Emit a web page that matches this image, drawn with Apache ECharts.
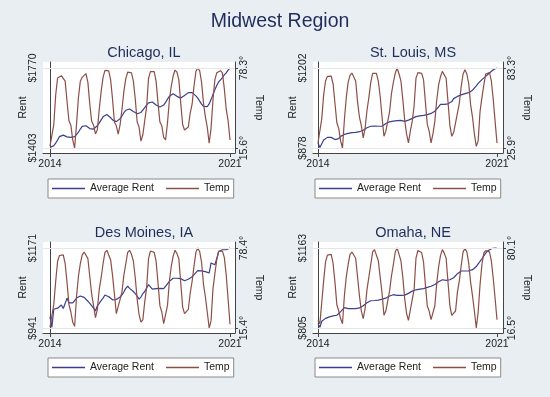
<!DOCTYPE html>
<html><head><meta charset="utf-8">
<script src="https://cdn.jsdelivr.net/npm/echarts/dist/echarts.min.js"></script>
<style>html,body{margin:0;padding:0;background:#e8eef1}#c{width:550px;height:397px}</style>
</head><body><div id="c"></div><script>
// ---------------- DATA ----------------
const mainTitle = 'Midwest Region';
const cityNames = ['Chicago, IL', 'St. Louis, MS', 'Des Moines, IA', 'Omaha, NE'];
const seriesNames = ['Average Rent', 'Temp'];
const axisTitles = ['Rent', 'Temp'];
const xTickIdx = [0, 95];            // month index: Jan 2014 ... Dec 2021
const xTickLabels = ['2014', '2021'];

const chicagoRent = [
1405,1410,1414,1425,1440,1455,1462,1462,1458,1454,1452,1452,
1453,1455,1462,1475,1490,1502,1507,1505,1498,1492,1488,1490,
1496,1505,1518,1532,1546,1555,1557,1552,1542,1532,1525,1524,
1528,1537,1550,1565,1576,1582,1582,1578,1570,1563,1560,1561,
1566,1575,1588,1600,1610,1615,1614,1608,1600,1593,1591,1593,
1600,1612,1627,1640,1649,1652,1648,1640,1634,1632,1636,1644,
1652,1657,1659,1657,1650,1642,1632,1618,1604,1594,1590,1593,
1605,1625,1648,1670,1690,1706,1716,1726,1738,1748,1760,1770];
const chicagoTemp = [
17.0,17.5,34.0,57.0,70.5,71.5,72.3,73.6,68.0,52.0,37.0,33.5,
22.0,15.6,34.0,55.0,68.0,71.0,72.5,73.9,67.0,50.0,36.5,33.5,
26.6,30.0,46.0,60.0,71.0,76.5,77.5,76.0,69.0,54.0,36.0,33.0,
26.5,34.0,46.0,60.0,70.0,75.0,76.5,74.5,68.0,54.0,36.0,32.0,
21.0,26.0,37.0,48.0,70.0,75.5,77.0,75.5,68.0,51.0,36.0,33.0,
24.0,21.9,35.0,53.0,64.0,72.0,76.7,75.0,69.0,51.0,34.0,29.7,
31.0,32.0,43.0,50.0,64.0,75.5,78.3,76.0,67.0,51.0,40.0,32.0,
19.3,31.0,53.0,69.0,74.5,76.0,76.2,74.5,62.0,46.0,37.0,21.9];
const chicagoRentTicks = [1403, 1770];
const chicagoTempTicks = [15.6, 78.3];

const stLouisRent = [
898,880,895,910,917,921,922,921,920,912,910,916,
925,930,933,935,937,938,940,940,941,942,944,946,
950,954,960,964,966,967,967,967,966,964,966,972,
977,980,984,986,987,988,989,989,990,988,986,989,
991,994,998,1003,1005,1006,1008,1009,1010,1011,1013,1016,
1018,1022,1027,1034,1045,1055,1056,1055,1055,1057,1060,1066,
1078,1083,1087,1090,1093,1096,1098,1100,1102,1106,1112,1120,
1130,1140,1148,1155,1162,1168,1174,1182,1190,1195,1199,1202];
const stLouisTemp = [
29.5,30.0,47.0,64.0,74.0,77.3,76.5,77.5,72.0,58.0,44.0,40.0,
31.0,25.9,46.0,62.0,73.0,78.0,79.7,78.5,74.0,59.0,48.0,42.0,
33.1,40.0,53.0,62.0,73.0,79.5,80.9,79.5,74.0,63.0,48.0,34.3,
38.0,45.0,52.0,65.0,73.0,79.5,83.3,79.0,74.0,61.0,46.0,36.0,
29.5,38.0,45.0,56.0,76.0,80.0,80.9,79.5,75.0,59.0,43.0,38.0,
29.5,36.0,45.0,60.0,71.0,77.0,80.9,79.5,76.0,59.0,42.0,34.3,
37.0,38.0,51.0,58.0,70.0,79.0,82.1,79.0,72.0,57.0,48.0,36.0,
27.1,31.0,52.0,62.0,71.0,79.0,80.2,80.0,74.0,61.0,45.0,29.5];
const stLouisRentTicks = [878, 1202];
const stLouisTempTicks = [25.9, 83.3];

const desMoinesRent = [
973,943,995,996,998,1002,1007,997,1000,1027,1013,1012,
1013,1020,1027,1031,1033,1030,1029,1024,1018,1012,1007,998,
990,1005,1012,1020,1027,1036,1033,1031,1026,1022,1021,1023,
1024,1030,1036,1045,1055,1061,1055,1050,1046,1040,1033,1024,
1030,1040,1046,1056,1066,1062,1053,1051,1054,1057,1055,1051,
1054,1058,1068,1075,1077,1084,1085,1084,1083,1083,1080,1077,
1078,1081,1079,1088,1092,1100,1106,1107,1105,1104,1103,1101,
1099,1128,1125,1123,1140,1160,1164,1166,1166,1166,1169,1171];
const desMoinesTemp = [
16.2,17.0,34.0,52.0,68.0,72.5,73.9,73.0,66.0,51.0,34.0,28.0,
20.0,16.7,40.0,56.0,66.0,73.0,75.2,74.0,70.0,56.0,42.0,33.0,
23.5,30.0,46.0,55.0,66.0,75.0,76.6,75.5,69.0,57.0,42.0,26.7,
28.0,38.0,44.0,57.0,66.0,75.0,76.6,73.5,68.0,55.0,38.0,26.0,
20.1,22.0,36.0,47.0,70.0,76.0,76.6,75.0,68.0,51.0,33.0,28.0,
18.8,18.0,33.0,52.0,64.0,72.0,76.6,74.0,70.0,51.0,32.0,26.7,
28.0,30.0,43.0,52.0,64.0,75.0,78.4,75.5,67.0,50.0,40.0,28.0,
15.4,21.0,46.0,58.0,69.0,76.0,76.6,76.0,71.0,57.0,38.0,18.3];
const desMoinesRentTicks = [941, 1171];
const desMoinesTempTicks = [15.4, 78.4];

const omahaRent = [
825,808,835,842,848,852,855,857,859,861,862,868,
878,886,896,894,892,892,892,891,892,893,895,900,
905,910,918,925,927,928,928,928,930,932,934,937,
939,943,948,952,954,952,951,951,951,951,952,955,
960,966,970,973,976,977,979,980,981,983,987,990,
992,995,1000,1005,1012,1018,1021,1020,1018,1018,1021,1025,
1030,1038,1048,1056,1060,1061,1060,1060,1061,1063,1066,1070,
1080,1092,1103,1115,1128,1140,1150,1156,1160,1161,1163,1162];
const omahaTemp = [
22.6,20.0,37.0,54.0,69.0,74.5,75.6,75.0,68.0,53.0,35.0,30.0,
24.0,19.9,42.0,57.0,67.0,75.0,76.9,75.5,72.0,57.0,42.0,30.0,
23.9,32.0,47.0,57.0,67.0,77.0,78.8,77.5,70.0,57.0,44.0,26.6,
30.0,38.0,46.0,58.0,67.0,77.0,80.1,75.0,70.0,57.0,40.0,28.0,
22.6,24.0,39.0,47.0,72.0,78.0,78.2,76.5,69.0,51.0,34.0,30.0,
23.1,22.0,34.0,52.0,65.0,74.0,78.8,76.0,72.0,53.0,34.0,26.6,
28.0,30.0,45.0,54.0,66.0,77.0,79.6,77.0,68.0,53.0,42.0,30.0,
16.5,29.0,51.0,67.0,76.0,78.0,78.2,77.0,70.0,56.0,40.0,23.1];
const omahaRentTicks = [805, 1163];
const omahaTempTicks = [16.5, 80.1];

// ---------------- LAYOUT / STYLE ----------------
const panels = [
  {rent: chicagoRent, temp: chicagoTemp, rt: chicagoRentTicks, tt: chicagoTempTicks},
  {rent: stLouisRent, temp: stLouisTemp, rt: stLouisRentTicks, tt: stLouisTempTicks},
  {rent: desMoinesRent, temp: desMoinesTemp, rt: desMoinesRentTicks, tt: desMoinesTempTicks},
  {rent: omahaRent, temp: omahaTemp, rt: omahaRentTicks, tt: omahaTempTicks}
];
const layouts = [
  {l:43, r:235, t:62, b:153, x0:50, x1:230, yT:68, yB:148, titleY:40, legL:48, legT:179},
  {l:313, r:503, t:62, b:153, x0:318, x1:497, yT:68, yB:148, titleY:40, legL:315, legT:179},
  {l:43, r:235, t:242, b:333, x0:50, x1:230, yT:248, yB:328, titleY:220, legL:48, legT:358},
  {l:313, r:503, t:242, b:333, x0:318, x1:497, yT:248, yB:328, titleY:220, legL:315, legT:358}
];
const FONT = 'Liberation Sans, Arial, sans-serif';
const rentColor = '#3a3f8e';
const tempColor = '#8c4f47';
const axisColor = '#444';
const textColor = '#222';
const titleColor = '#1f2d5c';

function extent(lo, hi, pLo, pHi, pxLo, pxHi) {
  const k = (hi - lo) / (pHi - pLo);
  return [lo + (pxLo - pLo) * k, hi + (pxHi - pHi) * k];
}
function nearestLabel(v, ticks, labels) {
  let bi = 0;
  ticks.forEach((t, i) => { if (Math.abs(t - v) < Math.abs(ticks[bi] - v)) bi = i; });
  return labels[bi];
}

const option = {
  backgroundColor: '#e8eef1',
  animation: false,
  textStyle: {fontFamily: FONT},
  title: [{text: mainTitle, left: 275, top: 7, textAlign: 'center',
    textStyle: {fontFamily: FONT, fontSize: 19.5, fontWeight: 'normal', color: titleColor}}],
  grid: [], xAxis: [], yAxis: [], series: [], legend: [], graphic: []
};

panels.forEach((p, i) => {
  const L = layouts[i];
  option.title.push({text: cityNames[i], left: (L.l + L.r) / 2, top: L.titleY, textAlign: 'center',
    textStyle: {fontFamily: FONT, fontSize: 14.5, fontWeight: 'normal', color: titleColor}});
  option.grid.push({left: L.l, top: L.t, width: L.r - L.l, height: L.b - L.t, show: true,
    backgroundColor: '#ffffff', borderWidth: 0, containLabel: false});
  const xe = extent(xTickIdx[0], xTickIdx[1], L.x0, L.x1, L.l, L.r);
  option.xAxis.push({type: 'value', gridIndex: i, min: xe[0], max: xe[1],
    axisLine: {show: true, lineStyle: {color: axisColor, width: 1}},
    axisTick: {show: true, customValues: xTickIdx, length: 4, lineStyle: {color: axisColor}},
    axisLabel: {customValues: xTickIdx, margin: 6, fontSize: 10.5, color: textColor, fontFamily: FONT,
      formatter: v => nearestLabel(v, xTickIdx, xTickLabels)},
    splitLine: {show: false}});
  const re = extent(p.rt[1], p.rt[0], L.yT, L.yB, L.t, L.b);
  const te = extent(p.tt[1], p.tt[0], L.yT, L.yB, L.t, L.b);
  const rentLabels = p.rt.map(v => '$' + v);
  const tempLabels = p.tt.map(v => v.toFixed(1) + '°');
  option.yAxis.push({type: 'value', gridIndex: i, position: 'left', min: re[1], max: re[0],
    axisLine: {show: true, lineStyle: {color: axisColor, width: 1}},
    axisTick: {show: true, customValues: p.rt, length: 3, lineStyle: {color: axisColor}},
    axisLabel: {customValues: p.rt, rotate: 90, margin: 4, fontSize: 10.5, color: textColor, fontFamily: FONT,
      formatter: v => nearestLabel(v, p.rt, rentLabels)},
    splitLine: {show: false}});
  option.yAxis.push({type: 'value', gridIndex: i, position: 'right', min: te[1], max: te[0],
    axisLine: {show: true, lineStyle: {color: axisColor, width: 1}},
    axisTick: {show: true, customValues: p.tt, length: 3, lineStyle: {color: axisColor}},
    axisLabel: {customValues: p.tt, rotate: 90, margin: 4, fontSize: 10.5, color: textColor, fontFamily: FONT,
      formatter: v => nearestLabel(v, p.tt, tempLabels)},
    splitLine: {show: false}});
  // axis titles
  option.graphic.push({type: 'text', x: L.l - 19.5, y: (L.t + L.b) / 2, rotation: Math.PI / 2, silent: true,
    style: {text: axisTitles[0], font: '10.5px ' + FONT, fill: textColor, align: 'center', verticalAlign: 'middle'}});
  option.graphic.push({type: 'text', x: L.r + 24, y: (L.t + L.b) / 2, rotation: -Math.PI / 2, silent: true,
    style: {text: axisTitles[1], font: '10.5px ' + FONT, fill: textColor, align: 'center', verticalAlign: 'middle'}});
  option.series.push({type: 'line', name: seriesNames[0], xAxisIndex: i, yAxisIndex: 2 * i,
    data: p.rent.map((v, k) => [k, v]), symbol: 'none', showSymbol: false, smooth: false,
    lineStyle: {color: rentColor, width: 1.2}, itemStyle: {color: rentColor},
    markLine: {silent: true, symbol: 'none', label: {show: false},
      lineStyle: {color: '#e6e6e6', width: 1, type: 'solid'},
      data: p.rt.map(v => ({yAxis: v}))}});
  option.series.push({type: 'line', name: seriesNames[1], xAxisIndex: i, yAxisIndex: 2 * i + 1,
    data: p.temp.map((v, k) => [k, v]), symbol: 'none', showSymbol: false, smooth: false,
    lineStyle: {color: tempColor, width: 1.2}, itemStyle: {color: tempColor}});
  option.legend.push({left: L.legL, top: L.legT, orient: 'horizontal', data: seriesNames,
    icon: 'rect', itemWidth: 33, itemHeight: 1.5, itemGap: 12, padding: [4, 4],
    backgroundColor: '#ffffff', borderColor: '#8a8a8a', borderWidth: 1, borderRadius: 0,
    textStyle: {fontSize: 10.5, color: textColor, fontFamily: FONT, lineHeight: 11},
    selectedMode: false});
});

const chart = echarts.init(document.getElementById('c'), null, {renderer: 'canvas'});
chart.setOption(option);
</script></body></html>
